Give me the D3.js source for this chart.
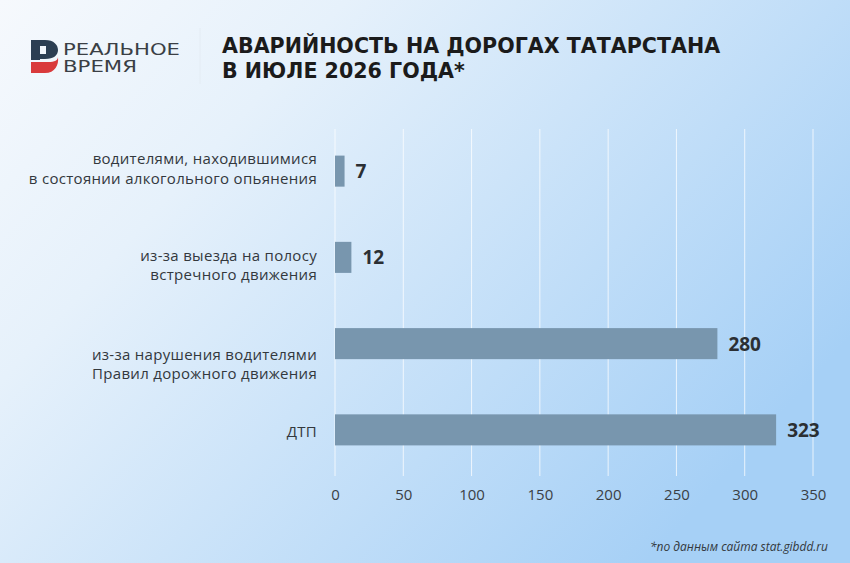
<!DOCTYPE html>
<html>
<head>
<meta charset="utf-8">
<script src="https://cdn.jsdelivr.net/npm/d3@7"></script>
<style>
  body { margin: 0; }
  svg { display: block; }
</style>
</head>
<body>
<script>
// canvas size
var width = 850
var height = 563

// data
const categories = [
  ["водителями, находившимися", "в состоянии алкогольного опьянения"],
  ["из-за выезда на полосу", "встречного движения"],
  ["из-за нарушения водителями", "Правил дорожного движения"],
  ["ДТП"]
];
const values = [7, 12, 280, 323];
const ticks = [0, 50, 100, 150, 200, 250, 300, 350];

const titleLines = ["АВАРИЙНОСТЬ НА ДОРОГАХ ТАТАРСТАНА", "В ИЮЛЕ 2026 ГОДА*"];
const brandLines = ["РЕАЛЬНОЕ", "ВРЕМЯ"];
const footnote = "*по данным сайта stat.gibdd.ru";

// the labels in the original don't sit exactly centred on their bars
var labelShift = [-2, 8, 21, 2]
var brandWidth = [117, 74] // stretched wide like the logo lettering

const svg = d3.select("body").append("svg")
  .attr("width", width)
  .attr("height", height)

// background gradient
var defs = svg.append("defs")
var grad = defs.append("linearGradient")
  .attr("id", "bg")
  .attr("x1", "0%").attr("y1", "0%")
  .attr("x2", "100%").attr("y2", "60%")
grad.append("stop").attr("offset", "0%").attr("stop-color", "#f6f9fd")
grad.append("stop").attr("offset", "30%").attr("stop-color", "#e6f1fb")
grad.append("stop").attr("offset", "100%").attr("stop-color", "#a6d0f6")

svg.append("rect")
  .attr("width", width)
  .attr("height", height)
  .attr("fill", "url(#bg)")

// logo
var logo = svg.append("g").attr("transform", "translate(31,40)")
logo.append("path")
  .attr("d", "M0,0 H14 C23,0 27,5 27,10 C27,15 23,19 14,19 H9 V20 H0 Z")
  .attr("fill", "#2c3e52")
logo.append("path")
  .attr("d", "M0,22 H17 C24,22 27,20 27,17 C28,25 24,33 14,33 H0 Z")
  .attr("fill", "#d93a3c")
logo.append("rect")
  .attr("x", 9).attr("y", 6).attr("width", 6).attr("height", 8)
  .attr("fill", "#f2f6fb")

// brand name, one text element with two lines
svg.append("text")
  .attr("font-family", "DejaVu Sans")
  .attr("font-size", "15px")
  .attr("fill", "#3a3f45")
  .selectAll("tspan")
  .data(brandLines)
  .enter()
  .append("tspan")
  .attr("x", 63)
  .attr("y", (d, i) => 54.5 + i * 17.6)
  .attr("textLength", (d, i) => brandWidth[i])
  .attr("lengthAdjust", "spacingAndGlyphs")
  .text(d => d)

// divider
svg.append("line")
  .attr("x1", 200).attr("x2", 200)
  .attr("y1", 28).attr("y2", 84)
  .attr("stroke", "#e4ecf4")

// title
svg.append("text")
  .attr("font-family", "DejaVu Sans")
  .attr("font-weight", 700)
  .attr("font-size", "20.6px")
  .attr("fill", "#1b1b1b")
  .selectAll("tspan")
  .data(titleLines)
  .enter()
  .append("tspan")
  .attr("x", 222)
  .attr("y", (d, i) => 53 + i * 24.6)
  .text(d => d)

// scales
var x = d3.scaleLinear()
  .domain([0, 350])
  .range([335, 813])

var y = d3.scaleBand()
  .domain(d3.range(values.length))
  .range([128, 473])
  .paddingInner(0.64)
  .paddingOuter(0.32)

// grid lines
svg.append("g")
  .selectAll("line")
  .data(ticks)
  .enter()
  .append("line")
  .attr("x1", d => x(d)).attr("x2", d => x(d))
  .attr("y1", 129).attr("y2", 476)
  .attr("stroke", "#ffffff")
  .attr("stroke-opacity", 0.75)
  .attr("stroke-width", 1)

// axis
var axis = svg.append("g")
  .attr("transform", "translate(0,476)")
  .call(d3.axisBottom(x).tickValues(ticks).tickSize(0).tickPadding(13))
axis.select(".domain").remove()
axis.selectAll("text")
  .attr("font-family", "Open Sans")
  .attr("font-size", "15px")
  .attr("fill", "#3a3f45")

// bars
var sign = svg.selectAll(".bar")
  .data(values)
  .enter()
  .append("g")
  .attr("class", "bar")

sign.append("rect")
  .attr("x", x(0))
  .attr("y", (d, i) => y(i))
  .attr("width", d => x(d) - x(0))
  .attr("height", y.bandwidth())
  .attr("fill", "#7896ae")

sign.append("text")
  .attr("x", d => x(d) + 11)
  .attr("y", (d, i) => y(i) + y.bandwidth() / 2 + 7)
  .attr("font-family", "Open Sans")
  .attr("font-weight", 700)
  .attr("font-size", "19px")
  .attr("fill", "#2b2f33")
  .text(d => d)

// category labels
var cat = svg.selectAll(".cat")
  .data(categories)
  .enter()
  .append("text")
  .attr("class", "cat")
  .attr("text-anchor", "end")
  .attr("font-family", "Open Sans")
  .attr("font-size", "15px")
  .attr("letter-spacing", "0.3px")
  .attr("fill", "#33383d")

cat.selectAll("tspan")
  .data((d, i) => d.map((t, j) => ({ t: t, j: j, n: d.length, i: i })))
  .enter()
  .append("tspan")
  .attr("x", 317)
  .attr("y", d => y(d.i) + y.bandwidth() / 2 + labelShift[d.i] + 5 + (d.j - (d.n - 1) / 2) * 19.5)
  .text(d => d.t)

// footnote
svg.append("text")
  .attr("x", 828).attr("y", 551)
  .attr("text-anchor", "end")
  .attr("font-family", "Open Sans")
  .attr("font-style", "italic")
  .attr("font-size", "13px")
  .attr("fill", "#33383d")
  .attr("textLength", 178)
  .attr("lengthAdjust", "spacingAndGlyphs")
  .text(footnote)
</script>
</body>
</html>
